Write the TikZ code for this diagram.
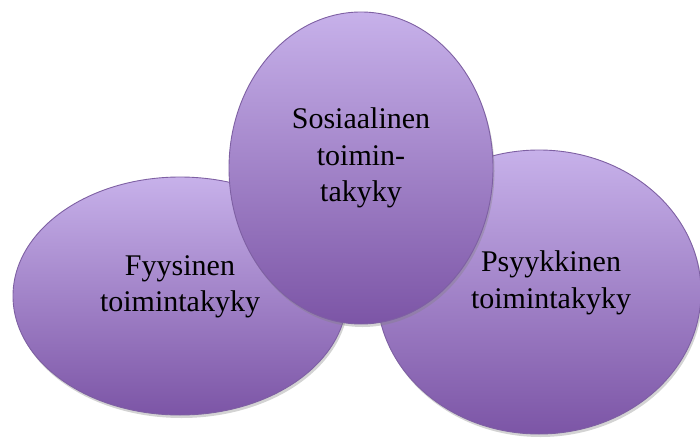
\documentclass[tikz,border=0pt]{standalone}
\usepackage{fontspec}
\setmainfont{Liberation Serif}
\usepackage{tikz}
\usetikzlibrary{shapes.geometric,shadows,positioning}
\definecolor{blobtop}{HTML}{C7B1EA}
\definecolor{blobbottom}{HTML}{7C55A6}
\definecolor{blobedge}{HTML}{7E60A3}

\begin{document}
\begin{tikzpicture}[
            x=1pt,y=-1pt,
            blob/.style={ellipse,inner sep=0pt,draw=blobedge,line width=0.9pt,
                top color=blobtop,bottom color=blobbottom,
                drop shadow={shadow xshift=1.5pt,shadow yshift=-3pt,opacity=0.35}},
            caption/.style={align=center,inner sep=0pt,
                font=\fontsize{30}{36.5}\selectfont}
        ]
        \useasboundingbox (0,0) rectangle (700,441);

        % Draw side ellipses %
        \node[blob,minimum width=334pt,minimum height=238pt] (fyys) at (180,296) {};
        \node[blob,minimum width=324pt,minimum height=284pt] (psyk) at (539,292) {};

        % Draw middle ellipse %
        \node[blob,minimum width=264pt,minimum height=312pt] (sos) at (361,168) {};

        % Labels %
        \node[caption] (fyystext) at ([yshift=9pt]fyys.center) {Fyysinen\\toimintakyky};
        \node[caption] (psyktext) at ([xshift=12pt,yshift=9pt]psyk.center) {Psyykkinen\\toimintakyky};
        \node[caption] (sostext) at ([yshift=10pt]sos.center) {Sosiaalinen\\toimin-\\takyky};
        \end{tikzpicture}
\end{document}
